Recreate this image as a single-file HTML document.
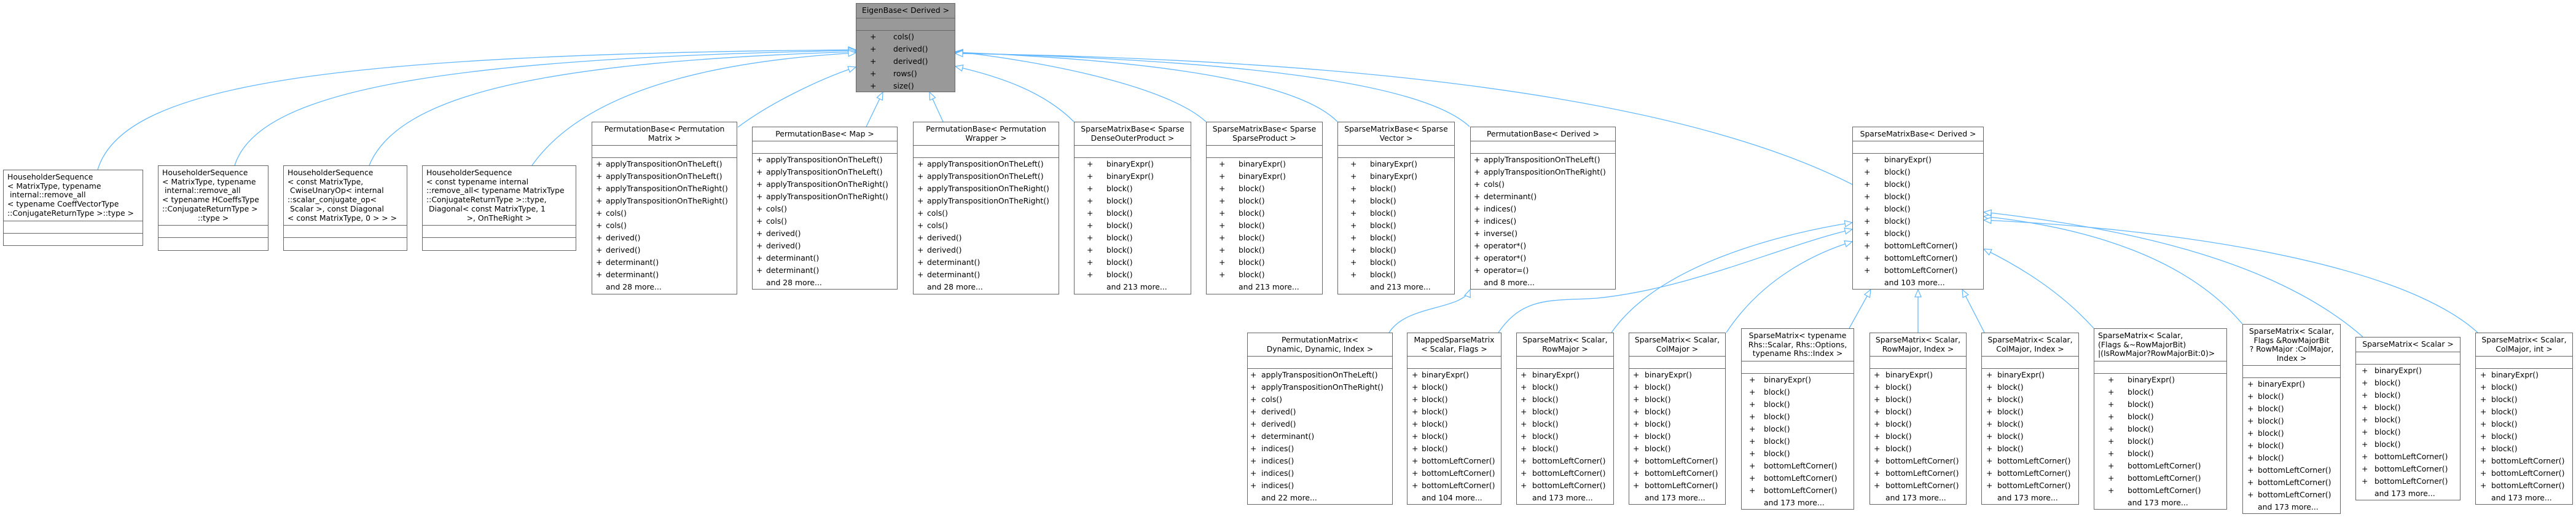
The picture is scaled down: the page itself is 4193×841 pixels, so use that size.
<!DOCTYPE html>
<html><head><meta charset="utf-8">
<style>
html,body{margin:0;padding:0;background:#fff;}
body{width:4193px;height:841px;position:relative;overflow:hidden;font-family:"DejaVu Sans","Liberation Sans",sans-serif;font-size:12.4px;color:#000;}
.b{position:absolute;border:1.3px solid #666;background:#fff;box-sizing:border-box;}
.g{background:#999;}
.t{box-sizing:border-box;border-bottom:1.3px solid #666;padding-top:4px;line-height:14.7px;white-space:pre;text-align:center;}
.tl{text-align:left;padding-left:6px;}
.e{height:20px;border-bottom:1.3px solid #666;box-sizing:border-box;}
.r{position:relative;height:20px;line-height:20px;white-space:pre;}
.r i{font-style:normal;position:absolute;top:0;}
.r span{position:absolute;top:0;}
svg{position:absolute;left:0;top:0;}
</style></head><body>

<svg width="4193" height="841" viewBox="0 0 4193 841">
<defs>
<marker id="a" markerUnits="userSpaceOnUse" markerWidth="16" markerHeight="14" refX="13" refY="6" orient="auto">
<path d="M1,1 L13,6 L1,11 Z" fill="#fff" stroke="#63b8ff" stroke-width="1.2"/>
</marker>
</defs>
<g fill="none" stroke="#63b8ff" stroke-width="1.3" marker-end="url(#a)">
<path d="M159,276 C200,140 520,88 1393,81"/>
<path d="M382,269 C420,150 700,95 1393,82"/>
<path d="M601,269 C650,150 900,100 1393,84"/>
<path d="M866,269 C950,150 1150,100 1393,86"/>
<path d="M1201,207 C1250,170 1330,130 1393,109"/>
<path d="M1410,206 L1437,150"/>
<path d="M1535,198 L1513,150"/>
<path d="M1748,198 C1700,150 1630,125 1555,108"/>
<path d="M1963,198 C1900,140 1700,100 1555,84"/>
<path d="M2177,198 C2100,120 1800,95 1555,85"/>
<path d="M2392,206 C2300,120 1900,95 1555,86"/>
<path d="M3015,300 C2700,140 2100,95 1555,87"/>
<path d="M2261,541 C2290,495 2380,505 2393,471"/>
<path d="M2439,541 C2480,480 2530,490 2600,485 C2750,470 2900,400 3015,373"/>
<path d="M2623,541 C2700,430 2900,380 3015,362"/>
<path d="M2810,541 C2870,450 2960,410 3015,393"/>
<path d="M3010,534 L3045,471"/>
<path d="M3122,541 L3122,471"/>
<path d="M3230,541 L3194,471"/>
<path d="M3408,534 C3350,470 3280,430 3229,405"/>
<path d="M3650,527 C3560,420 3400,370 3229,352"/>
<path d="M3846,548 C3700,420 3450,370 3229,345"/>
<path d="M4033,541 C3900,420 3500,370 3229,358"/>
</g>
</svg>

<!-- EigenBase -->
<div class="b g" style="left:1393px;top:5px;width:162px;height:145px;">
<div class="t" style="height:24px;">EigenBase&lt; Derived &gt;</div>
<div class="e"></div>
<div class="r"><i style="left:22px">+</i><span style="left:60px">cols()</span></div>
<div class="r"><i style="left:22px">+</i><span style="left:60px">derived()</span></div>
<div class="r"><i style="left:22px">+</i><span style="left:60px">derived()</span></div>
<div class="r"><i style="left:22px">+</i><span style="left:60px">rows()</span></div>
<div class="r"><i style="left:22px">+</i><span style="left:60px">size()</span></div>
</div>

<!-- Householder boxes -->
<div class="b" style="left:5px;top:276px;width:228px;height:124px;">
<div class="t tl" style="height:83px;">HouseholderSequence
&lt; MatrixType, typename
 internal::remove_all
&lt; typename CoeffVectorType
::ConjugateReturnType &gt;::type &gt;</div>
<div class="e"></div>
</div>
<div class="b" style="left:257px;top:269px;width:180px;height:139px;">
<div class="t tl" style="height:97px;">HouseholderSequence
&lt; MatrixType, typename
 internal::remove_all
&lt; typename HCoeffsType
::ConjugateReturnType &gt;
<span style="display:block;text-align:center;margin-left:-6px">::type &gt;</span></div>
<div class="e"></div>
</div>
<div class="b" style="left:461px;top:269px;width:202px;height:139px;">
<div class="t tl" style="height:97px;">HouseholderSequence
&lt; const MatrixType,
 CwiseUnaryOp&lt; internal
::scalar_conjugate_op&lt;
 Scalar &gt;, const Diagonal
&lt; const MatrixType, 0 &gt; &gt; &gt;</div>
<div class="e"></div>
</div>
<div class="b" style="left:687px;top:269px;width:251px;height:139px;">
<div class="t tl" style="height:97px;">HouseholderSequence
&lt; const typename internal
::remove_all&lt; typename MatrixType
::ConjugateReturnType &gt;::type,
 Diagonal&lt; const MatrixType, 1
<span style="display:block;text-align:center;margin-left:-6px">&gt;, OnTheRight &gt;</span></div>
<div class="e"></div>
</div>

<!-- PermutationBase<PermutationMatrix> -->
<div class="b" style="left:963px;top:198px;width:237px;height:281px;">
<div class="t" style="height:38px;">PermutationBase&lt; Permutation
Matrix &gt;</div>
<div class="e"></div>
<div class="r"><i style="left:6px">+</i><span style="left:22px">applyTranspositionOnTheLeft()</span></div>
<div class="r"><i style="left:6px">+</i><span style="left:22px">applyTranspositionOnTheLeft()</span></div>
<div class="r"><i style="left:6px">+</i><span style="left:22px">applyTranspositionOnTheRight()</span></div>
<div class="r"><i style="left:6px">+</i><span style="left:22px">applyTranspositionOnTheRight()</span></div>
<div class="r"><i style="left:6px">+</i><span style="left:22px">cols()</span></div>
<div class="r"><i style="left:6px">+</i><span style="left:22px">cols()</span></div>
<div class="r"><i style="left:6px">+</i><span style="left:22px">derived()</span></div>
<div class="r"><i style="left:6px">+</i><span style="left:22px">derived()</span></div>
<div class="r"><i style="left:6px">+</i><span style="left:22px">determinant()</span></div>
<div class="r"><i style="left:6px">+</i><span style="left:22px">determinant()</span></div>
<div class="r"><span style="left:22px">and 28 more...</span></div>
</div>

<!-- PermutationBase<Map> -->
<div class="b" style="left:1224px;top:206px;width:237px;height:265px;">
<div class="t" style="height:23px;">PermutationBase&lt; Map &gt;</div>
<div class="e"></div>
<div class="r"><i style="left:6px">+</i><span style="left:22px">applyTranspositionOnTheLeft()</span></div>
<div class="r"><i style="left:6px">+</i><span style="left:22px">applyTranspositionOnTheLeft()</span></div>
<div class="r"><i style="left:6px">+</i><span style="left:22px">applyTranspositionOnTheRight()</span></div>
<div class="r"><i style="left:6px">+</i><span style="left:22px">applyTranspositionOnTheRight()</span></div>
<div class="r"><i style="left:6px">+</i><span style="left:22px">cols()</span></div>
<div class="r"><i style="left:6px">+</i><span style="left:22px">cols()</span></div>
<div class="r"><i style="left:6px">+</i><span style="left:22px">derived()</span></div>
<div class="r"><i style="left:6px">+</i><span style="left:22px">derived()</span></div>
<div class="r"><i style="left:6px">+</i><span style="left:22px">determinant()</span></div>
<div class="r"><i style="left:6px">+</i><span style="left:22px">determinant()</span></div>
<div class="r"><span style="left:22px">and 28 more...</span></div>
</div>

<!-- PermutationBase<PermutationWrapper> -->
<div class="b" style="left:1486px;top:198px;width:238px;height:281px;">
<div class="t" style="height:38px;">PermutationBase&lt; Permutation
Wrapper &gt;</div>
<div class="e"></div>
<div class="r"><i style="left:6px">+</i><span style="left:22px">applyTranspositionOnTheLeft()</span></div>
<div class="r"><i style="left:6px">+</i><span style="left:22px">applyTranspositionOnTheLeft()</span></div>
<div class="r"><i style="left:6px">+</i><span style="left:22px">applyTranspositionOnTheRight()</span></div>
<div class="r"><i style="left:6px">+</i><span style="left:22px">applyTranspositionOnTheRight()</span></div>
<div class="r"><i style="left:6px">+</i><span style="left:22px">cols()</span></div>
<div class="r"><i style="left:6px">+</i><span style="left:22px">cols()</span></div>
<div class="r"><i style="left:6px">+</i><span style="left:22px">derived()</span></div>
<div class="r"><i style="left:6px">+</i><span style="left:22px">derived()</span></div>
<div class="r"><i style="left:6px">+</i><span style="left:22px">determinant()</span></div>
<div class="r"><i style="left:6px">+</i><span style="left:22px">determinant()</span></div>
<div class="r"><span style="left:22px">and 28 more...</span></div>
</div>

<!-- SparseMatrixBase 3x -->
<div class="b" style="left:1748px;top:198px;width:191px;height:281px;">
<div class="t" style="height:38px;">SparseMatrixBase&lt; Sparse
DenseOuterProduct &gt;</div>
<div class="e"></div>
<div class="r"><i style="left:20px">+</i><span style="left:52px">binaryExpr()</span></div>
<div class="r"><i style="left:20px">+</i><span style="left:52px">binaryExpr()</span></div>
<div class="r"><i style="left:20px">+</i><span style="left:52px">block()</span></div>
<div class="r"><i style="left:20px">+</i><span style="left:52px">block()</span></div>
<div class="r"><i style="left:20px">+</i><span style="left:52px">block()</span></div>
<div class="r"><i style="left:20px">+</i><span style="left:52px">block()</span></div>
<div class="r"><i style="left:20px">+</i><span style="left:52px">block()</span></div>
<div class="r"><i style="left:20px">+</i><span style="left:52px">block()</span></div>
<div class="r"><i style="left:20px">+</i><span style="left:52px">block()</span></div>
<div class="r"><i style="left:20px">+</i><span style="left:52px">block()</span></div>
<div class="r"><span style="left:52px">and 213 more...</span></div>
</div>
<div class="b" style="left:1963px;top:198px;width:190px;height:281px;">
<div class="t" style="height:38px;">SparseMatrixBase&lt; Sparse
SparseProduct &gt;</div>
<div class="e"></div>
<div class="r"><i style="left:20px">+</i><span style="left:52px">binaryExpr()</span></div>
<div class="r"><i style="left:20px">+</i><span style="left:52px">binaryExpr()</span></div>
<div class="r"><i style="left:20px">+</i><span style="left:52px">block()</span></div>
<div class="r"><i style="left:20px">+</i><span style="left:52px">block()</span></div>
<div class="r"><i style="left:20px">+</i><span style="left:52px">block()</span></div>
<div class="r"><i style="left:20px">+</i><span style="left:52px">block()</span></div>
<div class="r"><i style="left:20px">+</i><span style="left:52px">block()</span></div>
<div class="r"><i style="left:20px">+</i><span style="left:52px">block()</span></div>
<div class="r"><i style="left:20px">+</i><span style="left:52px">block()</span></div>
<div class="r"><i style="left:20px">+</i><span style="left:52px">block()</span></div>
<div class="r"><span style="left:52px">and 213 more...</span></div>
</div>
<div class="b" style="left:2177px;top:198px;width:191px;height:281px;">
<div class="t" style="height:38px;">SparseMatrixBase&lt; Sparse
Vector &gt;</div>
<div class="e"></div>
<div class="r"><i style="left:20px">+</i><span style="left:52px">binaryExpr()</span></div>
<div class="r"><i style="left:20px">+</i><span style="left:52px">binaryExpr()</span></div>
<div class="r"><i style="left:20px">+</i><span style="left:52px">block()</span></div>
<div class="r"><i style="left:20px">+</i><span style="left:52px">block()</span></div>
<div class="r"><i style="left:20px">+</i><span style="left:52px">block()</span></div>
<div class="r"><i style="left:20px">+</i><span style="left:52px">block()</span></div>
<div class="r"><i style="left:20px">+</i><span style="left:52px">block()</span></div>
<div class="r"><i style="left:20px">+</i><span style="left:52px">block()</span></div>
<div class="r"><i style="left:20px">+</i><span style="left:52px">block()</span></div>
<div class="r"><i style="left:20px">+</i><span style="left:52px">block()</span></div>
<div class="r"><span style="left:52px">and 213 more...</span></div>
</div>

<!-- PermutationBase<Derived> -->
<div class="b" style="left:2393px;top:206px;width:237px;height:265px;">
<div class="t" style="height:23px;">PermutationBase&lt; Derived &gt;</div>
<div class="e"></div>
<div class="r"><i style="left:5px">+</i><span style="left:21px">applyTranspositionOnTheLeft()</span></div>
<div class="r"><i style="left:5px">+</i><span style="left:21px">applyTranspositionOnTheRight()</span></div>
<div class="r"><i style="left:5px">+</i><span style="left:21px">cols()</span></div>
<div class="r"><i style="left:5px">+</i><span style="left:21px">determinant()</span></div>
<div class="r"><i style="left:5px">+</i><span style="left:21px">indices()</span></div>
<div class="r"><i style="left:5px">+</i><span style="left:21px">indices()</span></div>
<div class="r"><i style="left:5px">+</i><span style="left:21px">inverse()</span></div>
<div class="r"><i style="left:5px">+</i><span style="left:21px">operator*()</span></div>
<div class="r"><i style="left:5px">+</i><span style="left:21px">operator*()</span></div>
<div class="r"><i style="left:5px">+</i><span style="left:21px">operator=()</span></div>
<div class="r"><span style="left:21px">and 8 more...</span></div>
</div>

<!-- SparseMatrixBase<Derived> -->
<div class="b" style="left:3015px;top:206px;width:214px;height:265px;">
<div class="t" style="height:23px;">SparseMatrixBase&lt; Derived &gt;</div>
<div class="e"></div>
<div class="r"><i style="left:18px">+</i><span style="left:51px">binaryExpr()</span></div>
<div class="r"><i style="left:18px">+</i><span style="left:51px">block()</span></div>
<div class="r"><i style="left:18px">+</i><span style="left:51px">block()</span></div>
<div class="r"><i style="left:18px">+</i><span style="left:51px">block()</span></div>
<div class="r"><i style="left:18px">+</i><span style="left:51px">block()</span></div>
<div class="r"><i style="left:18px">+</i><span style="left:51px">block()</span></div>
<div class="r"><i style="left:18px">+</i><span style="left:51px">block()</span></div>
<div class="r"><i style="left:18px">+</i><span style="left:51px">bottomLeftCorner()</span></div>
<div class="r"><i style="left:18px">+</i><span style="left:51px">bottomLeftCorner()</span></div>
<div class="r"><i style="left:18px">+</i><span style="left:51px">bottomLeftCorner()</span></div>
<div class="r"><span style="left:51px">and 103 more...</span></div>
</div>

<!-- Bottom row -->
<div class="b" style="left:2030px;top:541px;width:237px;height:280px;">
<div class="t" style="height:38px;">PermutationMatrix&lt;
Dynamic, Dynamic, Index &gt;</div>
<div class="e"></div>
<div class="r"><i style="left:4px">+</i><span style="left:22px">applyTranspositionOnTheLeft()</span></div>
<div class="r"><i style="left:4px">+</i><span style="left:22px">applyTranspositionOnTheRight()</span></div>
<div class="r"><i style="left:4px">+</i><span style="left:22px">cols()</span></div>
<div class="r"><i style="left:4px">+</i><span style="left:22px">derived()</span></div>
<div class="r"><i style="left:4px">+</i><span style="left:22px">derived()</span></div>
<div class="r"><i style="left:4px">+</i><span style="left:22px">determinant()</span></div>
<div class="r"><i style="left:4px">+</i><span style="left:22px">indices()</span></div>
<div class="r"><i style="left:4px">+</i><span style="left:22px">indices()</span></div>
<div class="r"><i style="left:4px">+</i><span style="left:22px">indices()</span></div>
<div class="r"><i style="left:4px">+</i><span style="left:22px">indices()</span></div>
<div class="r"><span style="left:22px">and 22 more...</span></div>
</div>

<div class="b" style="left:2290px;top:541px;width:154px;height:280px;">
<div class="t" style="height:38px;">MappedSparseMatrix
&lt; Scalar, Flags &gt;</div>
<div class="e"></div>
<div class="r"><i style="left:7px">+</i><span style="left:23px">binaryExpr()</span></div>
<div class="r"><i style="left:7px">+</i><span style="left:23px">block()</span></div>
<div class="r"><i style="left:7px">+</i><span style="left:23px">block()</span></div>
<div class="r"><i style="left:7px">+</i><span style="left:23px">block()</span></div>
<div class="r"><i style="left:7px">+</i><span style="left:23px">block()</span></div>
<div class="r"><i style="left:7px">+</i><span style="left:23px">block()</span></div>
<div class="r"><i style="left:7px">+</i><span style="left:23px">block()</span></div>
<div class="r"><i style="left:7px">+</i><span style="left:23px">bottomLeftCorner()</span></div>
<div class="r"><i style="left:7px">+</i><span style="left:23px">bottomLeftCorner()</span></div>
<div class="r"><i style="left:7px">+</i><span style="left:23px">bottomLeftCorner()</span></div>
<div class="r"><span style="left:23px">and 104 more...</span></div>
</div>

<div class="b" style="left:2468px;top:541px;width:159px;height:280px;">
<div class="t" style="height:38px;">SparseMatrix&lt; Scalar,
RowMajor &gt;</div>
<div class="e"></div>
<div class="r"><i style="left:6px">+</i><span style="left:25px">binaryExpr()</span></div>
<div class="r"><i style="left:6px">+</i><span style="left:25px">block()</span></div>
<div class="r"><i style="left:6px">+</i><span style="left:25px">block()</span></div>
<div class="r"><i style="left:6px">+</i><span style="left:25px">block()</span></div>
<div class="r"><i style="left:6px">+</i><span style="left:25px">block()</span></div>
<div class="r"><i style="left:6px">+</i><span style="left:25px">block()</span></div>
<div class="r"><i style="left:6px">+</i><span style="left:25px">block()</span></div>
<div class="r"><i style="left:6px">+</i><span style="left:25px">bottomLeftCorner()</span></div>
<div class="r"><i style="left:6px">+</i><span style="left:25px">bottomLeftCorner()</span></div>
<div class="r"><i style="left:6px">+</i><span style="left:25px">bottomLeftCorner()</span></div>
<div class="r"><span style="left:25px">and 173 more...</span></div>
</div>

<div class="b" style="left:2651px;top:541px;width:158px;height:280px;">
<div class="t" style="height:38px;">SparseMatrix&lt; Scalar,
ColMajor &gt;</div>
<div class="e"></div>
<div class="r"><i style="left:6px">+</i><span style="left:25px">binaryExpr()</span></div>
<div class="r"><i style="left:6px">+</i><span style="left:25px">block()</span></div>
<div class="r"><i style="left:6px">+</i><span style="left:25px">block()</span></div>
<div class="r"><i style="left:6px">+</i><span style="left:25px">block()</span></div>
<div class="r"><i style="left:6px">+</i><span style="left:25px">block()</span></div>
<div class="r"><i style="left:6px">+</i><span style="left:25px">block()</span></div>
<div class="r"><i style="left:6px">+</i><span style="left:25px">block()</span></div>
<div class="r"><i style="left:6px">+</i><span style="left:25px">bottomLeftCorner()</span></div>
<div class="r"><i style="left:6px">+</i><span style="left:25px">bottomLeftCorner()</span></div>
<div class="r"><i style="left:6px">+</i><span style="left:25px">bottomLeftCorner()</span></div>
<div class="r"><span style="left:25px">and 173 more...</span></div>
</div>

<div class="b" style="left:2834px;top:534px;width:184px;height:295px;">
<div class="t" style="height:53px;">SparseMatrix&lt; typename
Rhs::Scalar, Rhs::Options,
typename Rhs::Index &gt;</div>
<div class="e"></div>
<div class="r"><i style="left:12px">+</i><span style="left:36px">binaryExpr()</span></div>
<div class="r"><i style="left:12px">+</i><span style="left:36px">block()</span></div>
<div class="r"><i style="left:12px">+</i><span style="left:36px">block()</span></div>
<div class="r"><i style="left:12px">+</i><span style="left:36px">block()</span></div>
<div class="r"><i style="left:12px">+</i><span style="left:36px">block()</span></div>
<div class="r"><i style="left:12px">+</i><span style="left:36px">block()</span></div>
<div class="r"><i style="left:12px">+</i><span style="left:36px">block()</span></div>
<div class="r"><i style="left:12px">+</i><span style="left:36px">bottomLeftCorner()</span></div>
<div class="r"><i style="left:12px">+</i><span style="left:36px">bottomLeftCorner()</span></div>
<div class="r"><i style="left:12px">+</i><span style="left:36px">bottomLeftCorner()</span></div>
<div class="r"><span style="left:36px">and 173 more...</span></div>
</div>

<div class="b" style="left:3043px;top:541px;width:158px;height:280px;">
<div class="t" style="height:38px;">SparseMatrix&lt; Scalar,
RowMajor, Index &gt;</div>
<div class="e"></div>
<div class="r"><i style="left:6px">+</i><span style="left:25px">binaryExpr()</span></div>
<div class="r"><i style="left:6px">+</i><span style="left:25px">block()</span></div>
<div class="r"><i style="left:6px">+</i><span style="left:25px">block()</span></div>
<div class="r"><i style="left:6px">+</i><span style="left:25px">block()</span></div>
<div class="r"><i style="left:6px">+</i><span style="left:25px">block()</span></div>
<div class="r"><i style="left:6px">+</i><span style="left:25px">block()</span></div>
<div class="r"><i style="left:6px">+</i><span style="left:25px">block()</span></div>
<div class="r"><i style="left:6px">+</i><span style="left:25px">bottomLeftCorner()</span></div>
<div class="r"><i style="left:6px">+</i><span style="left:25px">bottomLeftCorner()</span></div>
<div class="r"><i style="left:6px">+</i><span style="left:25px">bottomLeftCorner()</span></div>
<div class="r"><span style="left:25px">and 173 more...</span></div>
</div>

<div class="b" style="left:3225px;top:541px;width:159px;height:280px;">
<div class="t" style="height:38px;">SparseMatrix&lt; Scalar,
ColMajor, Index &gt;</div>
<div class="e"></div>
<div class="r"><i style="left:7px">+</i><span style="left:25px">binaryExpr()</span></div>
<div class="r"><i style="left:7px">+</i><span style="left:25px">block()</span></div>
<div class="r"><i style="left:7px">+</i><span style="left:25px">block()</span></div>
<div class="r"><i style="left:7px">+</i><span style="left:25px">block()</span></div>
<div class="r"><i style="left:7px">+</i><span style="left:25px">block()</span></div>
<div class="r"><i style="left:7px">+</i><span style="left:25px">block()</span></div>
<div class="r"><i style="left:7px">+</i><span style="left:25px">block()</span></div>
<div class="r"><i style="left:7px">+</i><span style="left:25px">bottomLeftCorner()</span></div>
<div class="r"><i style="left:7px">+</i><span style="left:25px">bottomLeftCorner()</span></div>
<div class="r"><i style="left:7px">+</i><span style="left:25px">bottomLeftCorner()</span></div>
<div class="r"><span style="left:25px">and 173 more...</span></div>
</div>

<div class="b" style="left:3408px;top:534px;width:217px;height:295px;">
<div class="t tl" style="height:53px;padding-left:6px;">SparseMatrix&lt; Scalar,
(Flags &amp;~RowMajorBit)
|(IsRowMajor?RowMajorBit:0)&gt;</div>
<div class="e"></div>
<div class="r"><i style="left:22px">+</i><span style="left:54px">binaryExpr()</span></div>
<div class="r"><i style="left:22px">+</i><span style="left:54px">block()</span></div>
<div class="r"><i style="left:22px">+</i><span style="left:54px">block()</span></div>
<div class="r"><i style="left:22px">+</i><span style="left:54px">block()</span></div>
<div class="r"><i style="left:22px">+</i><span style="left:54px">block()</span></div>
<div class="r"><i style="left:22px">+</i><span style="left:54px">block()</span></div>
<div class="r"><i style="left:22px">+</i><span style="left:54px">block()</span></div>
<div class="r"><i style="left:22px">+</i><span style="left:54px">bottomLeftCorner()</span></div>
<div class="r"><i style="left:22px">+</i><span style="left:54px">bottomLeftCorner()</span></div>
<div class="r"><i style="left:22px">+</i><span style="left:54px">bottomLeftCorner()</span></div>
<div class="r"><span style="left:54px">and 173 more...</span></div>
</div>

<div class="b" style="left:3650px;top:527px;width:160px;height:309px;">
<div class="t" style="height:67px;">SparseMatrix&lt; Scalar,
Flags &amp;RowMajorBit
? RowMajor :ColMajor,
Index &gt;</div>
<div class="e"></div>
<div class="r"><i style="left:7px">+</i><span style="left:24px">binaryExpr()</span></div>
<div class="r"><i style="left:7px">+</i><span style="left:24px">block()</span></div>
<div class="r"><i style="left:7px">+</i><span style="left:24px">block()</span></div>
<div class="r"><i style="left:7px">+</i><span style="left:24px">block()</span></div>
<div class="r"><i style="left:7px">+</i><span style="left:24px">block()</span></div>
<div class="r"><i style="left:7px">+</i><span style="left:24px">block()</span></div>
<div class="r"><i style="left:7px">+</i><span style="left:24px">block()</span></div>
<div class="r"><i style="left:7px">+</i><span style="left:24px">bottomLeftCorner()</span></div>
<div class="r"><i style="left:7px">+</i><span style="left:24px">bottomLeftCorner()</span></div>
<div class="r"><i style="left:7px">+</i><span style="left:24px">bottomLeftCorner()</span></div>
<div class="r"><span style="left:24px">and 173 more...</span></div>
</div>

<div class="b" style="left:3834px;top:548px;width:171px;height:266px;">
<div class="t" style="height:24px;">SparseMatrix&lt; Scalar &gt;</div>
<div class="e"></div>
<div class="r"><i style="left:9px">+</i><span style="left:30px">binaryExpr()</span></div>
<div class="r"><i style="left:9px">+</i><span style="left:30px">block()</span></div>
<div class="r"><i style="left:9px">+</i><span style="left:30px">block()</span></div>
<div class="r"><i style="left:9px">+</i><span style="left:30px">block()</span></div>
<div class="r"><i style="left:9px">+</i><span style="left:30px">block()</span></div>
<div class="r"><i style="left:9px">+</i><span style="left:30px">block()</span></div>
<div class="r"><i style="left:9px">+</i><span style="left:30px">block()</span></div>
<div class="r"><i style="left:9px">+</i><span style="left:30px">bottomLeftCorner()</span></div>
<div class="r"><i style="left:9px">+</i><span style="left:30px">bottomLeftCorner()</span></div>
<div class="r"><i style="left:9px">+</i><span style="left:30px">bottomLeftCorner()</span></div>
<div class="r"><span style="left:30px">and 173 more...</span></div>
</div>

<div class="b" style="left:4029px;top:541px;width:159px;height:280px;">
<div class="t" style="height:38px;">SparseMatrix&lt; Scalar,
ColMajor, int &gt;</div>
<div class="e"></div>
<div class="r"><i style="left:7px">+</i><span style="left:25px">binaryExpr()</span></div>
<div class="r"><i style="left:7px">+</i><span style="left:25px">block()</span></div>
<div class="r"><i style="left:7px">+</i><span style="left:25px">block()</span></div>
<div class="r"><i style="left:7px">+</i><span style="left:25px">block()</span></div>
<div class="r"><i style="left:7px">+</i><span style="left:25px">block()</span></div>
<div class="r"><i style="left:7px">+</i><span style="left:25px">block()</span></div>
<div class="r"><i style="left:7px">+</i><span style="left:25px">block()</span></div>
<div class="r"><i style="left:7px">+</i><span style="left:25px">bottomLeftCorner()</span></div>
<div class="r"><i style="left:7px">+</i><span style="left:25px">bottomLeftCorner()</span></div>
<div class="r"><i style="left:7px">+</i><span style="left:25px">bottomLeftCorner()</span></div>
<div class="r"><span style="left:25px">and 173 more...</span></div>
</div>

</body></html>
